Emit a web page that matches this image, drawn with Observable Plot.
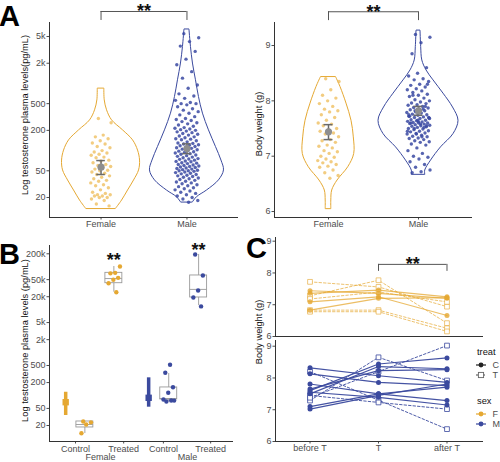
<!DOCTYPE html>
<html>
<head>
<meta charset="utf-8">
<script src="https://cdn.jsdelivr.net/npm/d3@7"></script>
<script src="https://cdn.jsdelivr.net/npm/@observablehq/plot@0.6"></script>
<style>
html,body{margin:0;padding:0;background:#fff;}
#root{position:relative;width:500px;height:462px;overflow:hidden;background:#fff;}
</style>
</head>
<body>
<div id="root"></div>
<script>
// ================= DATA =================
const sexes = ["Female", "Male"];

// Panel A (left): testosterone (pg/mL), individual points
const testoFemale = [300, 260, 170, 160, 150, 140, 130, 125, 115, 110, 100, 95, 92, 88, 85, 80, 78, 72, 70, 66, 62, 60, 58, 55, 53, 51, 50, 48, 46, 44, 42, 40, 38, 36, 35, 33, 31, 30, 28, 26, 24, 23, 22, 22, 21, 21, 20, 20, 19, 18, 16, 15];
const testoMale = [5500, 4800, 4200, 3600, 3000, 2300, 1900, 1500, 1200,
  950, 850, 700, 650, 600, 560, 520, 500, 500, 480,
  450, 420, 400, 380, 360, 340, 320, 300, 290, 280, 270, 260, 250, 240, 230, 220, 215, 210, 205, 200,
  195, 190, 185, 180, 175, 170, 165, 160, 155, 150, 148, 145, 140, 135, 130, 128, 125, 122, 120, 118, 115, 112, 110, 108, 105, 103, 100,
  98, 96, 94, 92, 90, 88, 86, 84, 82, 80, 78, 76, 75, 74, 72, 70, 69, 68, 66, 65, 64, 62, 61, 60, 59, 58, 57, 56, 55, 54, 53, 52, 51, 50, 50,
  49, 48, 47, 46, 45, 44, 43, 42, 41, 40, 39, 38, 37, 36, 35, 34, 33, 32, 31, 30,
  29, 28, 27, 26, 25, 24, 23, 22, 21, 20, 19, 18, 17];
const testoMean = [56.6, 107];
const testoLo = [44, 90];
const testoHi = [71, 126];
// violin outline (level, density read as half-width)
const violinTestoF_level = [13.6, 18, 25.4, 35.9, 50.6, 71, 100, 142, 200, 282, 398, 560, 838];
const violinTestoF_dens  = [15, 21, 27, 33, 38, 39, 37, 32, 22, 11, 6, 3.7, 3.3];
const violinTestoM_level = [17.0, 20.2, 25.4, 36, 50.6, 71, 113, 200, 355, 628, 1115, 1980, 3500, 6370];
const violinTestoM_dens  = [6, 10, 20, 32, 37, 34.5, 29, 22, 16, 12, 9, 6, 4, 2.5];
const testoTicksA = [20, 50, 200, 500, 2000, 5000];

// Panel A (right): body weight (g)
const weightFemale = [8.4, 8.35, 8.2, 8.1, 8.05, 8.0, 7.95, 7.9, 7.85, 7.82, 7.8, 7.75, 7.7, 7.65, 7.6, 7.58, 7.55, 7.5, 7.48, 7.45, 7.42, 7.4, 7.35, 7.3, 7.28, 7.25, 7.2, 7.18, 7.15, 7.1, 7.08, 7.05, 7.0, 6.98, 6.95, 6.92, 6.9, 6.88, 6.85, 6.82, 6.8, 6.75, 6.7, 6.65, 6.6];
const weightMale = [9.2, 9.15, 9.05, 8.85, 8.6, 8.5, 8.45, 8.4, 8.38, 8.35, 8.3, 8.28, 8.25, 8.22, 8.2, 8.18, 8.15, 8.12, 8.1, 8.08, 8.05, 8.02, 8.0,
  7.98, 7.96, 7.95, 7.93, 7.92, 7.9, 7.88, 7.87, 7.85, 7.84, 7.82, 7.8, 7.79, 7.78, 7.76, 7.75, 7.74, 7.72, 7.71, 7.7, 7.69, 7.68, 7.66, 7.65, 7.64, 7.63, 7.62, 7.61, 7.6, 7.6,
  7.59, 7.58, 7.57, 7.56, 7.55, 7.54, 7.53, 7.52, 7.5, 7.49, 7.48, 7.46, 7.45, 7.44, 7.42, 7.41, 7.4, 7.38, 7.36, 7.35, 7.33, 7.32, 7.3, 7.28, 7.26, 7.25, 7.22, 7.2,
  7.15, 7.1, 7.05, 7.0, 6.98, 6.95, 6.9, 6.85, 6.8, 6.75, 6.72, 6.7,
  7.55, 7.65, 7.75, 7.85, 7.5, 7.7, 7.8, 7.6, 7.9, 7.4, 7.45, 7.35, 8.1, 8.3, 7.62, 7.72, 7.52, 7.82, 7.68, 7.58];
const weightMean = [7.44, 7.82];
const weightLo = [7.30, 7.74];
const weightHi = [7.57, 7.90];
const violinWeightF_level = [6.05, 6.2, 6.38, 6.56, 6.80, 7.04, 7.34, 7.64, 7.95, 8.25, 8.43];
const violinWeightF_dens  = [2.8, 2.8, 3.7, 9, 19.7, 25.7, 25.3, 23, 18, 12, 7.5];
const violinWeightM_level = [6.67, 6.74, 6.92, 7.16, 7.40, 7.64, 7.88, 8.13, 8.37, 8.55, 8.73, 8.97, 9.27];
const violinWeightM_dens  = [6.7, 6.7, 12.5, 22.5, 35, 40, 34.5, 25, 15, 8, 3.8, 2.7, 2];
const weightTicksA = [6, 7, 8, 9];

// Panel B: testosterone by treatment
const bLabels = ["Control", "Treated", "Control", "Treated"];
const bSex = ["F", "F", "M", "M"];
const bPointsFC = [24.8, 23.7, 21.1, 13.2];
const bPointsFT = [101000, 72000, 70000, 55000, 49600, 41300, 25500];
const bPointsMC = [519, 338, 156, 115.6, 80.7, 76.4, 72.5, 76];
const bPointsMT = [192800, 62500, 27900, 19200, 11900];
const bBoxLo  = [13.0, 25500, 72, 12400];
const bBoxQ1  = [18, 41300, 81, 19200];
const bBoxMed = [21.1, 53000, 85, 29600];
const bBoxQ3  = [24.8, 72000, 154, 62500];
const bBoxHi  = [24.8, 101000, 325, 193000];
const bMean = [69.8, 88.4];
const bMeanLo = [34.2, 53.4];
const bMeanHi = [119, 258];
const testoTicksB = [20, 50, 200, 500, 2000, 5000, 20000, 50000, 200000];

// Panel C: body weight of individuals at three times
const cTimes = ["before T", "T", "after T"];
const cId    = ["F-C1","F-C2","F-C3","F-C4","F-T1","F-T2","F-T3","F-T4","F-T5",
                "M-C1","M-C2","M-C3","M-C4","M-C5","M-C6","M-C7","M-C8","M-C9","M-T1","M-T2","M-T3","M-T4"];
const cSex   = ["F","F","F","F","F","F","F","F","F","M","M","M","M","M","M","M","M","M","M","M","M","M"];
const cTreat = ["C","C","C","C","T","T","T","T","T","C","C","C","C","C","C","C","C","C","T","T","T","T"];
const cBefore = [7.44, 7.36, 7.09, 6.83, 7.72, 7.28, 7.18, 6.83, 6.78, 8.32, 8.13, 7.60, 7.50, 7.65, 7.10, 7.02, 7.81, 7.55, 7.29, 8.20, 7.45, 7.38];
const cDuring = [7.36, 7.46, 7.25, 7.20, 7.56, 7.77, 7.40, 6.83, 6.78, 8.07, 7.86, 8.44, 8.36, 8.23, 7.50, 7.45, 7.50, 7.39, 8.65, 7.30, 7.23, 8.20];
const cAfter  = [7.20, 7.25, 6.66, 7.22, 6.94, 6.42, 7.09, 6.26, 6.16, 7.86, 7.76, 8.63, 8.29, 8.26, 7.71, 7.81, 7.29, 7.15, 7.92, 6.39, 7.02, 9.02];
const weightTicksC = [6, 7, 8, 9];

// significance annotations (bracket levels in data units)
const sigA1 = {from: 1, to: 2, level: 11800, foot: 8670};
const sigA2 = {from: 1, to: 2, level: 9.61, foot: 9.45};
const sigB = [{x: 1.86, y: 143000}, {x: 3.76, y: 244000}];
const sigC = {from: 2, to: 3, level: 8.27, foot: 8.05};

// ================= DRAWING =================
const FONT = '"Liberation Sans", Arial, Helvetica, sans-serif';
const TICK = "#4d4d4d", AX = "#333333";
const FS = 9, FT = 9.3;
const colF = "#E5A832", colM = "#3B4A9E";
const colFpt = "#EDBB55", colMpt = "#3A49A2";
const boxGray = "#9a9a9a";
const root = document.getElementById("root");
const jit = i => ((i * 0.6180339887 + 0.37) % 1) - 0.5;
const fmtK = d => d >= 1000 ? (d / 1000) + "k" : String(d);
const baseStyle = () => ({fontFamily: FONT, fontSize: FS + "px", color: TICK, background: "transparent", overflow: "visible"});
function place(el, left, top) {
  el.style.position = "absolute"; el.style.left = left + "px"; el.style.top = top + "px";
  root.appendChild(el);
}
const violinRows = (lev, dens, pos, k) => lev.map((v, i) => ({v, x1: pos - dens[i] / k, x2: pos + dens[i] / k}));
const pointRows = (vals, pos, spread) => vals.map((v, i) => ({v, x: pos + jit(i) * spread}));
const meanRows = (m, lo, hi) => m.map((v, i) => ({x: i + 1, m: v, lo: lo[i], hi: hi[i]}));

// y axis drawn with ticks + text marks (works for log scales too)
function yAxisMarks(ticks, fmt, xLeft, k) {
  return [
    Plot.ruleY(ticks, {y: d => d, x1: xLeft - 2.5 / k, x2: xLeft, stroke: TICK, strokeWidth: 1}),
    Plot.text(ticks, {y: d => d, x: xLeft, dx: -4, textAnchor: "end", lineAnchor: "middle", text: fmt, fill: TICK, fontSize: FS})
  ];
}
function bracketMarks(s) {
  return [
    Plot.ruleY([s], {x1: "from", x2: "to", y: "level", stroke: "#555", strokeWidth: 1}),
    Plot.ruleX([s.from, s.to], {y1: s.level, y2: s.foot, stroke: "#555", strokeWidth: 1}),
    Plot.text([s], {x: d => (d.from + d.to) / 2, y: "level", text: () => "**", fontSize: 18, fontWeight: "bold", fill: "#111"})
  ];
}
function yTitle(label, dx, dy) {
  return Plot.text([label], {frameAnchor: "left", textAnchor: "middle", lineAnchor: "middle", rotate: -90, dx, dy, fill: "#111", fontSize: FT});
}

// ---- Panel A left ----
{
  const xd = [0.4, 2.6], yd = [10.07, 8090], k = 189 / 2.2;
  const p = Plot.plot({
    width: 245, height: 235, marginLeft: 49, marginRight: 7, marginTop: 22, marginBottom: 18,
    x: {domain: xd, axis: null}, y: {type: "log", domain: yd, axis: null},
    style: baseStyle(),
    marks: [
      ...yAxisMarks(testoTicksA, fmtK, xd[0], k),
      Plot.axisX({ticks: [1, 2], tickFormat: d => sexes[d - 1], tickSize: 2.5, tickPadding: 1, label: null}),
      Plot.ruleX([xd[0]], {stroke: AX}),
      Plot.ruleY([yd[0]], {stroke: AX}),
      Plot.areaX(violinRows(violinTestoF_level, violinTestoF_dens, 1, k), {y: "v", x1: "x1", x2: "x2", fill: "none", stroke: colF, strokeWidth: 1, curve: "catmull-rom"}),
      Plot.areaX(violinRows(violinTestoM_level, violinTestoM_dens, 2, k), {y: "v", x1: "x1", x2: "x2", fill: "none", stroke: colM, strokeWidth: 1, curve: "catmull-rom"}),
      Plot.dot(pointRows(testoFemale, 1, 0.24), {x: "x", y: "v", r: 1.7, fill: colFpt, fillOpacity: 0.75}),
      Plot.dot(pointRows(testoMale, 2, 0.28), {x: "x", y: "v", r: 1.7, fill: colMpt, fillOpacity: 0.85}),
      Plot.ruleX(meanRows(testoMean, testoLo, testoHi), {x: "x", y1: "lo", y2: "hi", stroke: "#6a6a6a", strokeWidth: 1.5}),
      Plot.ruleY(meanRows(testoMean, testoLo, testoHi), {x1: d => d.x - 0.05, x2: d => d.x + 0.05, y: "lo", stroke: "#6a6a6a", strokeWidth: 1.5}),
      Plot.ruleY(meanRows(testoMean, testoLo, testoHi), {x1: d => d.x - 0.05, x2: d => d.x + 0.05, y: "hi", stroke: "#6a6a6a", strokeWidth: 1.5}),
      Plot.dot(meanRows(testoMean, testoLo, testoHi), {x: "x", y: "m", r: 3.6, fill: "#8e8e8e"}),
      ...bracketMarks(sigA1),
      yTitle("Log testosterone plasma levels(pg/mL)", -24, -5)
    ]
  });
  place(p, 0, 0);
}

// ---- Panel A right ----
{
  const xd = [0.4, 2.6], yd = [5.892, 9.416], k = 198 / 2.2;
  const p = Plot.plot({
    width: 250, height: 235, marginLeft: 24, marginRight: 28, marginTop: 22, marginBottom: 18,
    x: {domain: xd, axis: null}, y: {domain: yd, axis: null},
    style: baseStyle(),
    marks: [
      ...yAxisMarks(weightTicksA, d => String(d), xd[0], k),
      Plot.axisX({ticks: [1, 2], tickFormat: d => sexes[d - 1], tickSize: 2.5, tickPadding: 1, label: null}),
      Plot.ruleX([xd[0]], {stroke: AX}),
      Plot.ruleY([yd[0]], {stroke: AX}),
      Plot.areaX(violinRows(violinWeightF_level, violinWeightF_dens, 1, k), {y: "v", x1: "x1", x2: "x2", fill: "none", stroke: colF, strokeWidth: 1, curve: "catmull-rom"}),
      Plot.areaX(violinRows(violinWeightM_level, violinWeightM_dens, 2, k), {y: "v", x1: "x1", x2: "x2", fill: "none", stroke: colM, strokeWidth: 1, curve: "catmull-rom"}),
      Plot.dot(pointRows(weightFemale, 1, 0.24), {x: "x", y: "v", r: 1.7, fill: colFpt, fillOpacity: 0.75}),
      Plot.dot(pointRows(weightMale, 2, 0.26), {x: "x", y: "v", r: 1.7, fill: colMpt, fillOpacity: 0.85}),
      Plot.ruleX(meanRows(weightMean, weightLo, weightHi), {x: "x", y1: "lo", y2: "hi", stroke: "#6a6a6a", strokeWidth: 1.5}),
      Plot.ruleY(meanRows(weightMean, weightLo, weightHi), {x1: d => d.x - 0.05, x2: d => d.x + 0.05, y: "lo", stroke: "#6a6a6a", strokeWidth: 1.5}),
      Plot.ruleY(meanRows(weightMean, weightLo, weightHi), {x1: d => d.x - 0.05, x2: d => d.x + 0.05, y: "hi", stroke: "#6a6a6a", strokeWidth: 1.5}),
      Plot.dot(meanRows(weightMean, weightLo, weightHi), {x: "x", y: "m", r: 3.6, fill: "#8e8e8e"}),
      ...bracketMarks(sigA2),
      yTitle("Body weight (g)", -15, 4)
    ]
  });
  place(p, 250, 0);
}

// ---- Panel B ----
{
  const xd = [0.417, 4.542], yd = [8.48, 312000], k = 184 / 4.125;
  const tickPos = [1, 2.08, 2.97, 4.03];
  const boxPos = [1.21, 1.86, 3.09, 3.76];
  const meanPos = [0.78, 2.64];
  const groupPos = [1.56, 3.51];
  const hw = 0.19;
  const boxes = bLabels.map((l, i) => ({x: boxPos[i], lo: bBoxLo[i], q1: bBoxQ1[i], med: bBoxMed[i], q3: bBoxQ3[i], hi: bBoxHi[i]}));
  const pts = [bPointsFC, bPointsFT, bPointsMC, bPointsMT].flatMap((arr, g) =>
    arr.map((v, i) => ({x: boxPos[g] + jit(i + g) * 0.28, v, sex: bSex[g]})));
  const means = bMean.map((m, i) => ({x: meanPos[i], m, lo: bMeanLo[i], hi: bMeanHi[i], sex: i === 0 ? "F" : "M"}));
  const colorOf = s => s === "F" ? colF : colM;
  const p = Plot.plot({
    width: 245, height: 227, marginLeft: 49, marginRight: 12, marginTop: 10, marginBottom: 21,
    x: {domain: xd, axis: null}, y: {type: "log", domain: yd, axis: null},
    style: baseStyle(),
    marks: [
      ...yAxisMarks(testoTicksB, fmtK, xd[0], k),
      Plot.axisX({ticks: tickPos, tickFormat: (d, i) => bLabels[i], tickSize: 2.5, tickPadding: 1.5, label: null}),
      Plot.ruleX([xd[0]], {stroke: AX}),
      Plot.ruleY([yd[0]], {stroke: AX}),
      Plot.ruleX(boxes, {x: "x", y1: "lo", y2: "hi", stroke: boxGray, strokeWidth: 0.9}),
      Plot.rect(boxes, {x1: d => d.x - hw, x2: d => d.x + hw, y1: "q1", y2: "q3", fill: "white", stroke: boxGray, strokeWidth: 0.9}),
      Plot.ruleY(boxes, {x1: d => d.x - hw, x2: d => d.x + hw, y: "med", stroke: boxGray, strokeWidth: 0.9}),
      Plot.ruleX(means, {x: "x", y1: "lo", y2: "hi", stroke: d => colorOf(d.sex), strokeWidth: 3.5}),
      Plot.dot(means, {x: "x", y: "m", symbol: "square", r: 3.6, fill: d => colorOf(d.sex)}),
      Plot.dot(pts, {x: "x", y: "v", r: 2.2, fill: d => colorOf(d.sex)}),
      Plot.text(sigB, {x: "x", y: "y", text: () => "**", fontSize: 18, fontWeight: "bold", fill: "#111"}),
      Plot.text(sexes, {x: (d, i) => groupPos[i], frameAnchor: "bottom", lineAnchor: "top", dy: 12.5, fill: TICK, fontSize: FS}),
      yTitle("Log testosterone plasma levels (pg/mL)", -24, -3)
    ]
  });
  place(p, 0, 235);
}

// ---- Panel C ----
{
  const rows = cId.flatMap((id, i) => [cBefore[i], cDuring[i], cAfter[i]].map((w, t) => ({id, sex: cSex[i], treat: cTreat[i], t: t + 1, w})));
  const xd = [0.496, 3.533], k = 208 / 3.037;
  const facet = (sex, col, yd, height, mt, mb, extra, showX) => Plot.plot({
    width: 250, height, marginLeft: 25, marginRight: 17, marginTop: mt, marginBottom: mb,
    x: {domain: xd, axis: null}, y: {domain: yd, axis: null},
    style: baseStyle(),
    marks: [
      ...yAxisMarks(weightTicksC, d => String(d), xd[0], k),
      showX ? Plot.axisX({ticks: [1, 2, 3], tickFormat: d => cTimes[d - 1], tickSize: 2.5, tickPadding: 1, label: null}) : null,
      Plot.ruleX([xd[0]], {stroke: AX}),
      Plot.ruleY([yd[0]], {stroke: AX}),
      Plot.line(rows.filter(d => d.sex === sex && d.treat === "T"), {x: "t", y: "w", z: "id", stroke: col, strokeWidth: 1, strokeOpacity: sex === "F" ? 0.7 : 0.9, strokeDasharray: "2.5,2"}),
      Plot.line(rows.filter(d => d.sex === sex && d.treat === "C"), {x: "t", y: "w", z: "id", stroke: col, strokeWidth: 1.2, strokeOpacity: sex === "F" ? 0.75 : 0.95}),
      Plot.dot(rows.filter(d => d.sex === sex && d.treat === "T"), {x: "t", y: "w", symbol: "square", r: 2.7, fill: "white", stroke: col, strokeWidth: 0.9, strokeOpacity: sex === "F" ? 0.7 : 0.9}),
      Plot.dot(rows.filter(d => d.sex === sex && d.treat === "C"), {x: "t", y: "w", r: 2.5, fill: col, fillOpacity: sex === "F" ? 0.8 : 1}),
      ...extra
    ]
  });
  const top = facet("F", colF, [6, 9.116], 110, 7, 4, bracketMarks(sigC), false);
  place(top, 250, 230);
  const bottom = facet("M", colM, [6, 9.18], 127, 5, 21, [], true);
  place(bottom, 250, 335);
  // shared y title for both facets
  const t = d3.create("svg").attr("width", 20).attr("height", 140).style("overflow", "visible");
  t.append("text").attr("transform", "translate(12.3,70) rotate(-90)")
    .attr("text-anchor", "middle").attr("font-family", FONT).attr("font-size", FT).attr("fill", "#111")
    .text("Body weight (g)");
  place(t.node(), 250, 262);
}

// ---- Legend for C ----
{
  const leg = d3.create("svg").attr("width", 30).attr("height", 90)
    .attr("font-family", FONT).style("overflow", "visible");
  leg.append("text").attr("x", 4).attr("y", 11).attr("font-size", FT).attr("fill", "#111").text("treat");
  leg.append("line").attr("x1", 3).attr("x2", 13).attr("y1", 21).attr("y2", 21).attr("stroke", "#222").attr("stroke-width", 1.2);
  leg.append("circle").attr("cx", 8).attr("cy", 21).attr("r", 2.4).attr("fill", "#222");
  leg.append("text").attr("x", 19.5).attr("y", 24.2).attr("font-size", FS).attr("fill", TICK).text("C");
  leg.append("line").attr("x1", 3).attr("x2", 13).attr("y1", 31).attr("y2", 31).attr("stroke", "#444").attr("stroke-width", 1).attr("stroke-dasharray", "2,1.5");
  leg.append("rect").attr("x", 5.4).attr("y", 28.4).attr("width", 5.2).attr("height", 5.2).attr("fill", "white").attr("stroke", "#666").attr("stroke-width", 0.9);
  leg.append("text").attr("x", 19.5).attr("y", 34.2).attr("font-size", FS).attr("fill", TICK).text("T");
  leg.append("text").attr("x", 4).attr("y", 59.5).attr("font-size", FT).attr("fill", "#111").text("sex");
  [["F", colF, 70], ["M", colM, 80]].forEach(([l, c, y]) => {
    leg.append("line").attr("x1", 3).attr("x2", 13).attr("y1", y).attr("y2", y).attr("stroke", c).attr("stroke-width", 1.2);
    leg.append("circle").attr("cx", 8).attr("cy", y).attr("r", 2.4).attr("fill", c);
    leg.append("text").attr("x", 19.5).attr("y", y + 3.2).attr("font-size", FS).attr("fill", TICK).text(l);
  });
  place(leg.node(), 473, 344);
}

// ---- Panel letters ----
{
  const s = d3.create("svg").attr("width", 500).attr("height", 462).style("pointer-events", "none")
    .attr("font-family", FONT).attr("font-weight", "bold").attr("font-size", 29).attr("fill", "#000");
  s.append("text").attr("x", -1).attr("y", 25.5).text("A");
  s.append("text").attr("x", -1).attr("y", 263.5).text("B");
  s.append("text").attr("x", 246).attr("y", 257.5).text("C");
  place(s.node(), 0, 0);
}
</script>
</body>
</html>
